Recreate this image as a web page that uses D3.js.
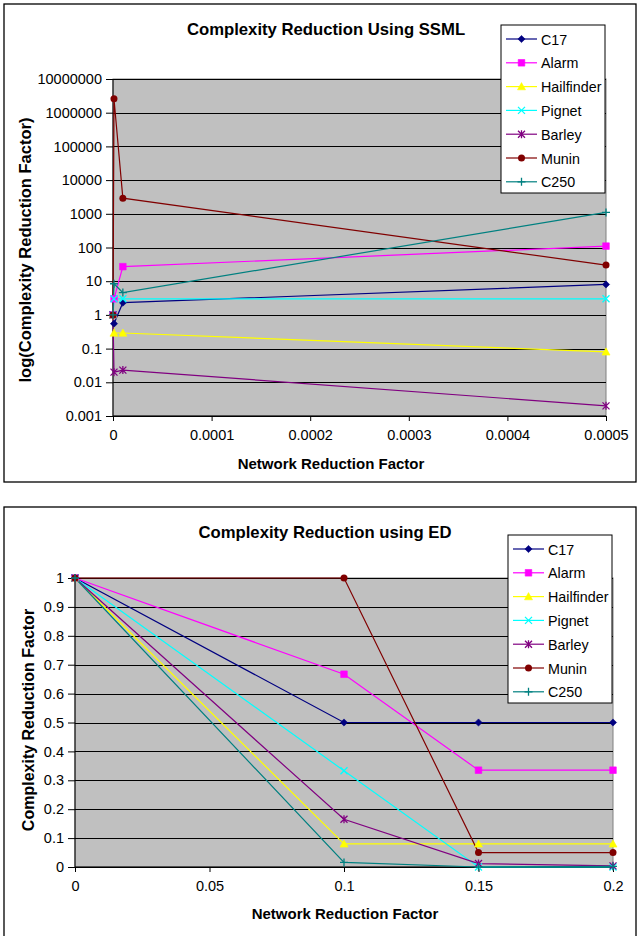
<!DOCTYPE html>
<html>
<head>
<meta charset="utf-8">
<script src="https://cdn.jsdelivr.net/npm/d3@7"></script>
<style>
  body { margin: 0; background: #fff; }
  svg { display: block; font-family: "Liberation Sans", Arial, sans-serif; }
</style>
</head>
<body>
<svg id="chart" width="639" height="936"></svg>
<script>
// series names and styles
var names = ["C17", "Alarm", "Hailfinder", "Pignet", "Barley", "Munin", "C250"];
var colors = ["#000080", "#ff00ff", "#ffff00", "#00ffff", "#800080", "#800000", "#008080"];
var shapes = ["diamond", "square", "triangle", "x", "asterisk", "circle", "plus"];

// top chart: SSML (log scale)
var ssmlX = [0, 0.000001, 0.00001, 0.0005];
var ssmlC17 = [1, 0.55, 2.3, 8];
var ssmlAlarm = [1, 3, 27, 110];
var ssmlHailfinder = [1, 0.29, 0.29, 0.08];
var ssmlPignet = [1, 3, 3, 3];
var ssmlBarley = [1, 0.02, 0.023, 0.002];
var ssmlMunin = [1, 2600000, 2900, 30];
var ssmlC250 = [1, 8.4, 4.6, 1100];
var ssmlXTicks = [0, 0.0001, 0.0002, 0.0003, 0.0004, 0.0005];
var ssmlYTicks = [0.001, 0.01, 0.1, 1, 10, 100, 1000, 10000, 100000, 1000000, 10000000];

// bottom chart: ED (linear scale)
var edX = [0, 0.1, 0.15, 0.2];
var edC17 = [1, 0.5, 0.5, 0.5];
var edAlarm = [1, 0.667, 0.335, 0.335];
var edHailfinder = [1, 0.08, 0.08, 0.08];
var edPignet = [1, 0.333, 0, 0];
var edBarley = [1, 0.165, 0.012, 0.004];
var edMunin = [1, 1, 0.05, 0.05];
var edC250 = [1, 0.016, 0, 0.002];
var edXTicks = [0, 0.05, 0.1, 0.15, 0.2];
var edYTicks = [0, 0.1, 0.2, 0.3, 0.4, 0.5, 0.6, 0.7, 0.8, 0.9, 1];

var svg = d3.select("#chart");

function markerPath(shape){
  var s = 3.6;
  if(shape == "diamond") return "M0,-"+s+"L"+s+",0L0,"+s+"L-"+s+",0Z";
  if(shape == "square") return "M-3.3,-3.3H3.3V3.3H-3.3Z";
  if(shape == "triangle") return "M0,-4L4,3.2H-4Z";
  if(shape == "x") return "M-3.5,-3.5L3.5,3.5M-3.5,3.5L3.5,-3.5";
  if(shape == "asterisk") return "M-3.5,-3.5L3.5,3.5M-3.5,3.5L3.5,-3.5M0,-4V4";
  if(shape == "plus") return "M-4,0H4M0,-4V4";
  return null;
}

function drawMarker(g, shape, color, cx, cy){
  if(shape == "circle"){
    g.append("circle").attr("cx",cx).attr("cy",cy).attr("r",3.5).attr("fill",color);
    return;
  }
  var open = (shape == "x" || shape == "asterisk" || shape == "plus");
  g.append("path")
    .attr("d", markerPath(shape))
    .attr("transform","translate("+cx+","+cy+")")
    .attr("fill", open ? "none" : color)
    .attr("stroke", color)
    .attr("stroke-width", open ? 1.3 : 0.6);
}

function drawChart(opt){
  var g = svg.append("g");

  // outer frame
  g.append("rect")
    .attr("x",opt.frame[0]).attr("y",opt.frame[1])
    .attr("width",opt.frame[2]).attr("height",opt.frame[3])
    .attr("fill","#fff").attr("stroke","#000").attr("stroke-width",1.3);

  var x = d3.scaleLinear().domain(opt.xDomain).range([opt.left, opt.right]);
  var y = opt.log
    ? d3.scaleLog().domain(opt.yDomain).range([opt.bottom, opt.top])
    : d3.scaleLinear().domain(opt.yDomain).range([opt.bottom, opt.top]);

  // plot area
  g.append("rect")
    .attr("x",opt.left).attr("y",opt.top)
    .attr("width",opt.right-opt.left).attr("height",opt.bottom-opt.top)
    .attr("fill","#c0c0c0").attr("stroke","#808080").attr("stroke-width",1);

  // gridlines
  g.selectAll(".grid").data(opt.yTicks).enter().append("line")
    .attr("x1",opt.left).attr("x2",opt.right)
    .attr("y1",d=>Math.round(y(d))+0.5).attr("y2",d=>Math.round(y(d))+0.5)
    .attr("stroke","#000").attr("stroke-width",1);

  // y axis
  var yAxis = d3.axisLeft(y).tickValues(opt.yTicks).tickSize(7).tickPadding(4)
    .tickFormat(opt.yFormat);
  var ya = g.append("g").attr("transform","translate("+opt.left+",0)").call(yAxis);
  ya.select(".domain").attr("d","M0,"+opt.top+"V"+opt.bottom).attr("stroke","#000");
  ya.selectAll("text").attr("font-size",14.5).attr("fill","#000").attr("font-family","Liberation Sans, Arial");

  // x axis
  var xAxis = d3.axisBottom(x).tickValues(opt.xTicks).tickSize(5).tickPadding(9)
    .tickFormat(opt.xFormat);
  var xa = g.append("g").attr("transform","translate(0,"+opt.bottom+")").call(xAxis);
  xa.select(".domain").attr("d","M"+opt.left+",0H"+opt.right).attr("stroke","#000");
  xa.selectAll("text").attr("font-size",14.5).attr("fill","#000").attr("font-family","Liberation Sans, Arial");

  // series lines
  var line = d3.line().x(d=>x(d[0])).y(d=>y(d[1]));
  opt.series.forEach(function(vals,i){
    var pts = opt.xVals.map(function(v,j){ return [v, vals[j]]; });
    g.append("path").datum(pts)
      .attr("d",line).attr("fill","none")
      .attr("stroke",colors[i]).attr("stroke-width",1.2);
  });
  opt.series.forEach(function(vals,i){
    opt.xVals.forEach(function(v,j){
      drawMarker(g, shapes[i], colors[i], x(v), y(vals[j]));
    });
  });

  // titles
  g.append("text").attr("x",opt.titleX).attr("y",opt.titleY)
    .attr("text-anchor","middle").attr("font-size",16.7).attr("font-weight","bold")
    .text(opt.title);
  g.append("text").attr("x",opt.xTitleX).attr("y",opt.xTitleY)
    .attr("text-anchor","middle").attr("font-size",15).attr("font-weight","bold")
    .text("Network Reduction Factor");
  g.append("text")
    .attr("transform","translate("+opt.yTitleX+","+opt.yTitleY+") rotate(-90)")
    .attr("text-anchor","middle").attr("font-size",opt.yTitleSize).attr("font-weight","bold")
    .text(opt.yTitle);

  // legend
  var lg = g.append("g").attr("transform","translate("+opt.legend[0]+","+opt.legend[1]+")");
  lg.append("rect").attr("x",0).attr("y",0).attr("width",104).attr("height",168)
    .attr("fill","#fff").attr("stroke","#000").attr("stroke-width",1);
  names.forEach(function(n,i){
    var ly = 14 + i*23.8;
    lg.append("line").attr("x1",5).attr("x2",36).attr("y1",ly).attr("y2",ly)
      .attr("stroke",colors[i]).attr("stroke-width",1.2);
    drawMarker(lg, shapes[i], colors[i], 20.5, ly);
    lg.append("text").attr("x",40).attr("y",ly+5.5).attr("font-size",14.3).text(n);
  });
}

var logFmt = function(d){ return d >= 1 ? d3.format("d")(d) : String(+d.toPrecision(1)); };

drawChart({
  frame:[4,4,632,478],
  left:113, right:606, top:79, bottom:416,
  log:true,
  xDomain:[0,0.0005], yDomain:[0.001,10000000],
  xTicks:ssmlXTicks, yTicks:ssmlYTicks,
  xFormat:d=>String(d), yFormat:logFmt,
  xVals:ssmlX,
  series:[ssmlC17, ssmlAlarm, ssmlHailfinder, ssmlPignet, ssmlBarley, ssmlMunin, ssmlC250],
  title:"Complexity Reduction Using SSML", titleX:326, titleY:35,
  xTitleX:331, xTitleY:469,
  yTitle:"log(Complexity Reduction Factor)", yTitleSize:16.5, yTitleX:31, yTitleY:250,
  legend:[501,25]
});

drawChart({
  frame:[4,507,632,440],
  left:75, right:613, top:578, bottom:867,
  log:false,
  xDomain:[0,0.2], yDomain:[0,1],
  xTicks:edXTicks, yTicks:edYTicks,
  xFormat:d=>String(d), yFormat:d=>String(d),
  xVals:edX,
  series:[edC17, edAlarm, edHailfinder, edPignet, edBarley, edMunin, edC250],
  title:"Complexity Reduction using ED", titleX:325, titleY:538,
  xTitleX:345, xTitleY:919,
  yTitle:"Complexity Reduction Factor", yTitleSize:16, yTitleX:34, yTitleY:720,
  legend:[508,535]
});
</script>
</body>
</html>
